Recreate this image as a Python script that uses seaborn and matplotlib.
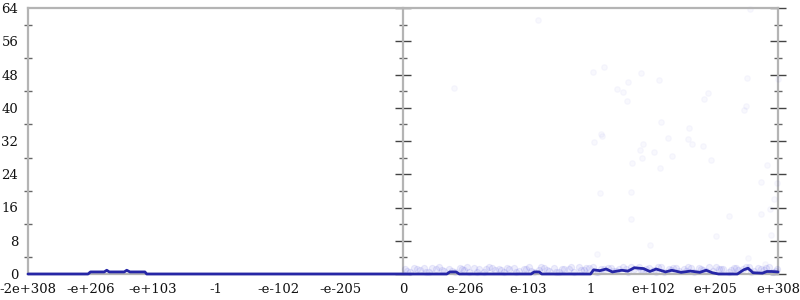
import matplotlib
matplotlib.use("Agg")
import matplotlib.pyplot as plt
import seaborn as sns
from matplotlib.ticker import MultipleLocator

sns.set_style("white")
plt.rcParams['font.family'] = ['DejaVu Serif']

# x positions are in tick-slot units (0..12) of the symmetric log-like float scale
tick_labels = ["-2e+308", "-e+206", "-e+103", "-1", "-e-102", "-e-205", "0",
               "e-206", "e-103", "1", "e+102", "e+205", "e+308"]

# summary line
line_x = [0.0, 0.96, 1.0, 1.22, 1.26, 1.30, 1.54, 1.58, 1.63, 1.87, 1.90, 6.0,
          6.70, 6.75, 6.85, 6.90, 8.05, 8.10, 8.18, 8.22, 9.0, 9.05, 9.15, 9.25,
          9.35, 9.50, 9.60, 9.70, 9.85, 9.95, 10.05, 10.20, 10.30, 10.45, 10.60,
          10.75, 10.85, 10.95, 11.05, 11.35, 11.45, 11.52, 11.60, 11.75, 11.82,
          11.90, 12.0]
line_y = [0.0, 0.0, 0.5, 0.5, 0.9, 0.5, 0.5, 0.9, 0.5, 0.5, 0.0, 0.0,
          0.0, 0.5, 0.5, 0.0, 0.0, 0.5, 0.5, 0.0, 0.0, 1.0, 0.8, 1.2,
          0.5, 0.9, 0.7, 1.5, 1.3, 0.6, 1.2, 0.5, 0.9, 0.4, 0.7,
          0.4, 0.9, 0.3, 0.0, 0.0, 1.0, 1.4, 0.3, 0.2, 0.6, 0.6, 0.5]

# individual sample points (outliers)
pt_x = [9.035, 9.21, 9.81, 9.60, 10.10, 9.42, 9.52, 9.58, 10.88, 10.82, 11.50,
        11.49, 11.46, 10.12, 10.57, 9.16, 9.19, 9.06, 10.24, 10.56, 10.62, 10.80,
        9.84, 9.79, 10.01, 9.82, 10.30, 10.92, 9.66, 10.11, 11.82, 11.73, 9.15,
        9.64, 11.94, 11.87, 11.72, 11.21, 9.65, 11.89, 11.01, 11.55, 8.16, 6.82,
        9.95, 9.10, 11.52, 11.79, 12.0, 11.98]
pt_y = [48.7, 49.7, 48.3, 46.3, 46.7, 44.6, 43.9, 41.6, 43.5, 42.1, 47.1,
        40.4, 39.5, 36.6, 35.1, 33.6, 33.1, 31.8, 32.8, 32.6, 31.3, 30.8,
        31.3, 29.8, 29.4, 27.9, 28.5, 27.4, 26.6, 25.5, 26.3, 22.1, 19.6,
        19.7, 18.1, 15.6, 14.5, 14.0, 13.2, 9.5, 9.1, 63.8, 61.0, 44.8,
        6.9, 4.7, 3.8, 2.3, 46.8, 22.0]

# dense band of samples near zero
band_x = [6.03, 6.11, 6.18, 6.27, 6.33, 6.41, 6.52, 6.58, 6.66, 6.74, 6.83, 6.91,
          6.97, 7.06, 7.14, 7.22, 7.29, 7.38, 7.47, 7.53, 7.61, 7.70, 7.78, 7.85,
          7.93, 8.02, 8.09, 8.17, 8.26, 8.34, 8.41, 8.49, 8.58, 8.66, 8.73, 8.81,
          8.90, 8.97, 9.04, 9.12, 9.21, 9.28, 9.36, 9.45, 9.52, 9.60, 9.69, 9.77,
          9.84, 9.93, 10.01, 10.08, 10.17, 10.25, 10.32, 10.41, 10.49, 10.56,
          10.65, 10.73, 10.80, 10.89, 10.96, 11.05, 11.12, 11.21, 11.29, 11.36,
          11.44, 11.53, 11.61, 11.68, 11.77, 11.85, 11.92, 11.99,
          6.07, 6.22, 6.37, 6.47, 6.62, 6.79, 6.94, 7.02, 7.18, 7.33, 7.43, 7.57,
          7.66, 7.81, 7.97, 8.05, 8.21, 8.30, 8.45, 8.54, 8.69, 8.85, 8.93, 9.08,
          9.17, 9.32, 9.41, 9.56, 9.65, 9.81, 9.89, 10.04, 10.13, 10.29, 10.37,
          10.53, 10.61, 10.77, 10.85, 11.01, 11.09, 11.25, 11.33, 11.48, 11.57,
          11.72, 11.81, 11.96]
band_y = [1.2, 0.6, 1.4, 0.9, 1.5, 0.4, 1.1, 1.6, 0.7, 1.3, 0.5, 1.5,
          1.0, 0.6, 1.4, 1.2, 0.4, 1.6, 0.9, 1.3, 0.5, 1.1, 1.5, 0.7,
          1.2, 1.6, 0.4, 1.0, 1.4, 0.8, 1.5, 0.6, 1.3, 1.1, 0.5, 1.6,
          0.9, 1.4, 1.7, 0.6, 1.2, 1.5, 0.8, 1.3, 1.8, 0.5, 1.1, 1.6,
          0.7, 1.4, 1.0, 1.7, 0.6, 1.3, 1.5, 0.8, 1.2, 1.6,
          0.5, 1.4, 1.0, 1.7, 0.7, 1.3, 1.1, 0.6, 1.5, 0.9,
          1.2, 1.6, 0.8, 1.4, 1.0, 1.7, 0.6, 1.3,
          0.8, 1.3, 0.6, 1.5, 1.0, 0.7, 1.2, 1.6, 0.5, 1.1, 1.4, 0.9,
          1.5, 0.6, 1.2, 0.8, 1.6, 1.0, 0.5, 1.3, 1.7, 0.9, 1.4, 0.6,
          1.1, 1.5, 0.7, 1.2, 1.6, 0.9, 1.3, 0.6, 1.7, 1.0, 1.4,
          0.8, 1.5, 1.1, 0.7, 1.6, 1.2, 0.9, 1.4, 1.8, 0.6,
          1.1, 1.5, 0.8]

fig = plt.figure(figsize=(8, 3), dpi=100)
ax = fig.add_axes([28/800, 26/300, 750/800, 266/300])

pt_color = "#4040e0"
sns.scatterplot(x=band_x, y=band_y, ax=ax, s=20, marker="o",
                color=pt_color, alpha=0.09, edgecolor=pt_color, linewidth=0.8,
                clip_on=False, zorder=2)
sns.scatterplot(x=pt_x, y=pt_y, ax=ax, s=16, marker="o",
                color=pt_color, alpha=0.035, edgecolor=pt_color, linewidth=0.8,
                clip_on=False, zorder=2)
sns.lineplot(x=line_x, y=line_y, ax=ax, estimator=None, sort=False,
             color="#2626a6", linewidth=2.0, zorder=3)
for l in ax.lines:
    l.set_clip_on(False)

ax.set_xlim(0, 12)
ax.set_ylim(0, 64)
ax.set_xticks(range(13))
ax.set_xticklabels(tick_labels)
ax.yaxis.set_major_locator(MultipleLocator(8))
ax.yaxis.set_minor_locator(MultipleLocator(4))

gray = "#b4b4b4"
for side in ["left", "top", "right", "bottom"]:
    ax.spines[side].set_color(gray)
    ax.spines[side].set_linewidth(1.6)
ax.spines["right"].set_visible(False)

ax.tick_params(axis="x", direction="inout", length=9, width=1, color="#333333",
               labelsize=9.5, pad=2, labelcolor="#111111")
ax.tick_params(axis="y", which="major", direction="inout", length=12, width=1,
               color="#444444", labelsize=9.5, pad=1, labelcolor="#111111")
ax.tick_params(axis="y", which="minor", direction="inout", length=6, width=1,
               color="#666666", left=True)

for loc in [0.5, "right"]:
    sec = ax.secondary_yaxis(loc)
    sec.yaxis.set_major_locator(MultipleLocator(8))
    sec.yaxis.set_minor_locator(MultipleLocator(4))
    sec.tick_params(axis="y", which="major", direction="inout", length=12,
                    width=1, color="#444444", labelleft=False, labelright=False)
    sec.tick_params(axis="y", which="minor", direction="inout", length=6,
                    width=1, color="#666666")
    for side, sp in sec.spines.items():
        sp.set_color(gray)
        sp.set_linewidth(1.6)

ax.set_xlabel("")
ax.set_ylabel("")
fig.savefig("out.png", dpi=100)
